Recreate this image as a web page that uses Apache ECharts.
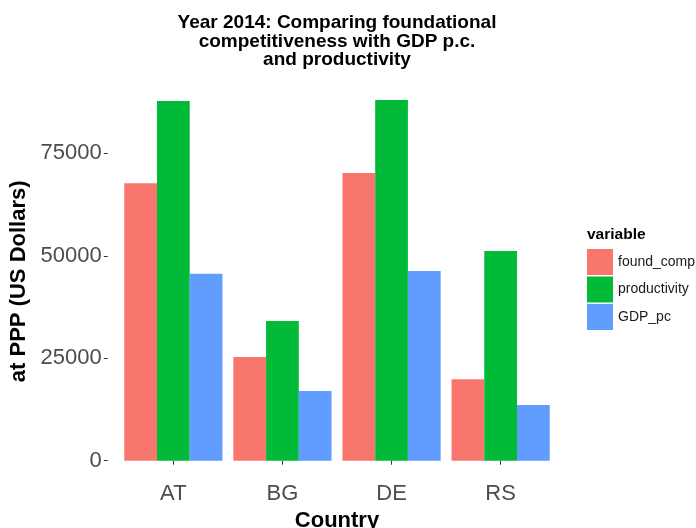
<!DOCTYPE html>
<html>
<head>
<meta charset="utf-8">
<script src="https://cdn.jsdelivr.net/npm/echarts@6/dist/echarts.min.js"></script>
<style>
html,body{margin:0;padding:0;background:#fff;}
#chart{width:696px;height:528px;}
</style>
</head>
<body>
<div id="chart"></div>
<script>
const countries = ['AT', 'BG', 'DE', 'RS'];
const found_comp = [67700, 25300, 70200, 19900];
const productivity = [87800, 34100, 88000, 51200];
const GDP_pc = [45600, 17000, 46300, 13600];
const yTicks = [0, 25000, 50000, 75000];
const seriesNames = ['found_comp', 'productivity', 'GDP_pc'];
const colors = ['#F8766D', '#00BA38', '#619CFF'];

const FONT = '"Liberation Sans", Arial, Helvetica, sans-serif';
const chart = echarts.init(document.getElementById('chart'), null, {renderer: 'canvas'});

const seriesData = [found_comp, productivity, GDP_pc];

chart.setOption({
  animation: false,
  color: colors,
  textStyle: {fontFamily: FONT},
  title: {
    text: 'Year 2014: Comparing foundational\ncompetitiveness with GDP p.c.\nand productivity',
    left: 337,
    top: 14,
    padding: 0,
    textAlign: 'center',
    textStyle: {fontFamily: FONT, fontSize: 19, fontWeight: 'bold', color: '#000', lineHeight: 18.5}
  },
  legend: {
    orient: 'vertical',
    left: 587,
    top: 249,
    padding: 0,
    itemWidth: 26,
    itemHeight: 26,
    itemGap: 1.5,
    icon: 'rect',
    data: seriesNames,
    textStyle: {fontFamily: FONT, fontSize: 14, color: '#1a1a1a'}
  },
  graphic: [{
    type: 'text',
    left: 587,
    top: 227,
    style: {text: 'variable', fontFamily: FONT, fontSize: 15.5, fontWeight: 'bold', fill: '#000'}
  }],
  grid: {left: 118.8, width: 436.4, top: 91.9, bottom: 67.3, containLabel: false, outerBoundsMode: 'none'},
  xAxis: {
    type: 'category',
    data: countries,
    offset: 18,
    axisLine: {show: false},
    axisTick: {show: true, alignWithLabel: true, length: 4, lineStyle: {color: '#333'}},
    axisLabel: {fontFamily: FONT, fontSize: 22, color: '#4d4d4d', margin: 4},
    name: 'Country',
    nameLocation: 'middle',
    nameGap: 27,
    nameTextStyle: {fontFamily: FONT, fontSize: 22, fontWeight: 'bold', color: '#000'}
  },
  yAxis: {
    type: 'value',
    min: 0,
    max: 90000,
    offset: 11,
    axisLine: {show: false},
    splitLine: {show: false},
    axisTick: {show: true, length: 4, lineStyle: {color: '#333'}, customValues: yTicks},
    axisLabel: {fontFamily: FONT, fontSize: 22, color: '#4d4d4d', margin: 6, customValues: yTicks,
      formatter: v => String(v)},
    name: 'at PPP (US Dollars)',
    nameLocation: 'middle',
    nameGap: 69,
    nameTextStyle: {fontFamily: FONT, fontSize: 22, fontWeight: 'bold', color: '#000', padding: [0, 10, 0, 0]}
  },
  series: seriesNames.map((n, i) => ({
    name: n,
    type: 'bar',
    data: seriesData[i],
    barGap: '0%',
    barCategoryGap: '10%',
    itemStyle: {color: colors[i]}
  }))
});
</script>
</body>
</html>
